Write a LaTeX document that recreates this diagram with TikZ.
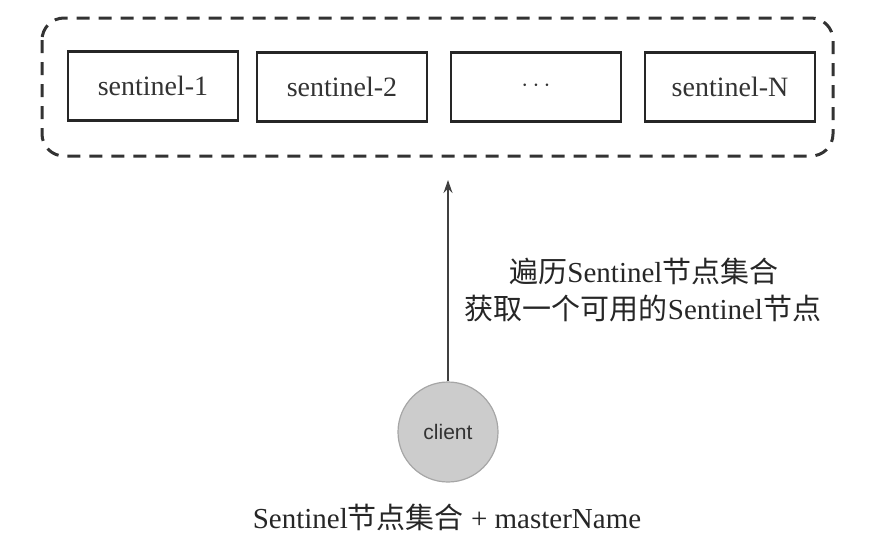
\documentclass[tikz,border=0pt]{standalone}
\usepackage{fontspec}
\setmainfont{Liberation Serif}
\setsansfont{Liberation Sans}
\newfontfamily\cjk{Noto Sans CJK SC}
\usetikzlibrary{arrows.meta}
\begin{document}
\begin{tikzpicture}[x=1pt,y=-1pt,
  sbox/.style={draw=black!85,line width=2.2pt,minimum width=170pt,minimum height=69pt,inner sep=0pt,font=\fontsize{28}{32}\selectfont,text=black!80},
  group/.style={draw=black!80,line width=3pt,dash pattern=on 13pt off 9pt,rounded corners=22pt},
  clientnode/.style={circle,draw=black!35,line width=1.2pt,fill=black!20,minimum size=100pt,inner sep=0pt,font=\sffamily\fontsize{21}{24}\selectfont,text=black!80},
  lbl/.style={font=\fontsize{29}{33}\selectfont,text=black!85,align=center},
  conn/.style={draw=black!75,line width=1.4pt,-{Stealth[length=13pt,width=9pt]}}]
\useasboundingbox (0,0) rectangle (869,555);
\draw[group] (42,18) rectangle (833,156);
\node[sbox] (s1) at (153,86) {sentinel-1};
\node[sbox] (s2) at (342,87) {sentinel-2};
\node[sbox] (s3) at (536,87) {\raisebox{2pt}{$\cdots$}};
\node[sbox] (sn) at (730,87) {sentinel-N};
\node[clientnode] (client) at (448,432) {client};
\coordinate (tip) at (448,180);
\draw[conn] (client.north) -- (tip);
\node[lbl] (t1) at (644,271) {{\cjk 遍历}Sentinel{\cjk 节点集合}};
\node[lbl] (t2) at (643,308) {{\cjk 获取一个可用的}Sentinel{\cjk 节点}};
\node[lbl] (t3) at (447,517) {Sentinel{\cjk 节点集合} + masterName};
\end{tikzpicture}
\end{document}
